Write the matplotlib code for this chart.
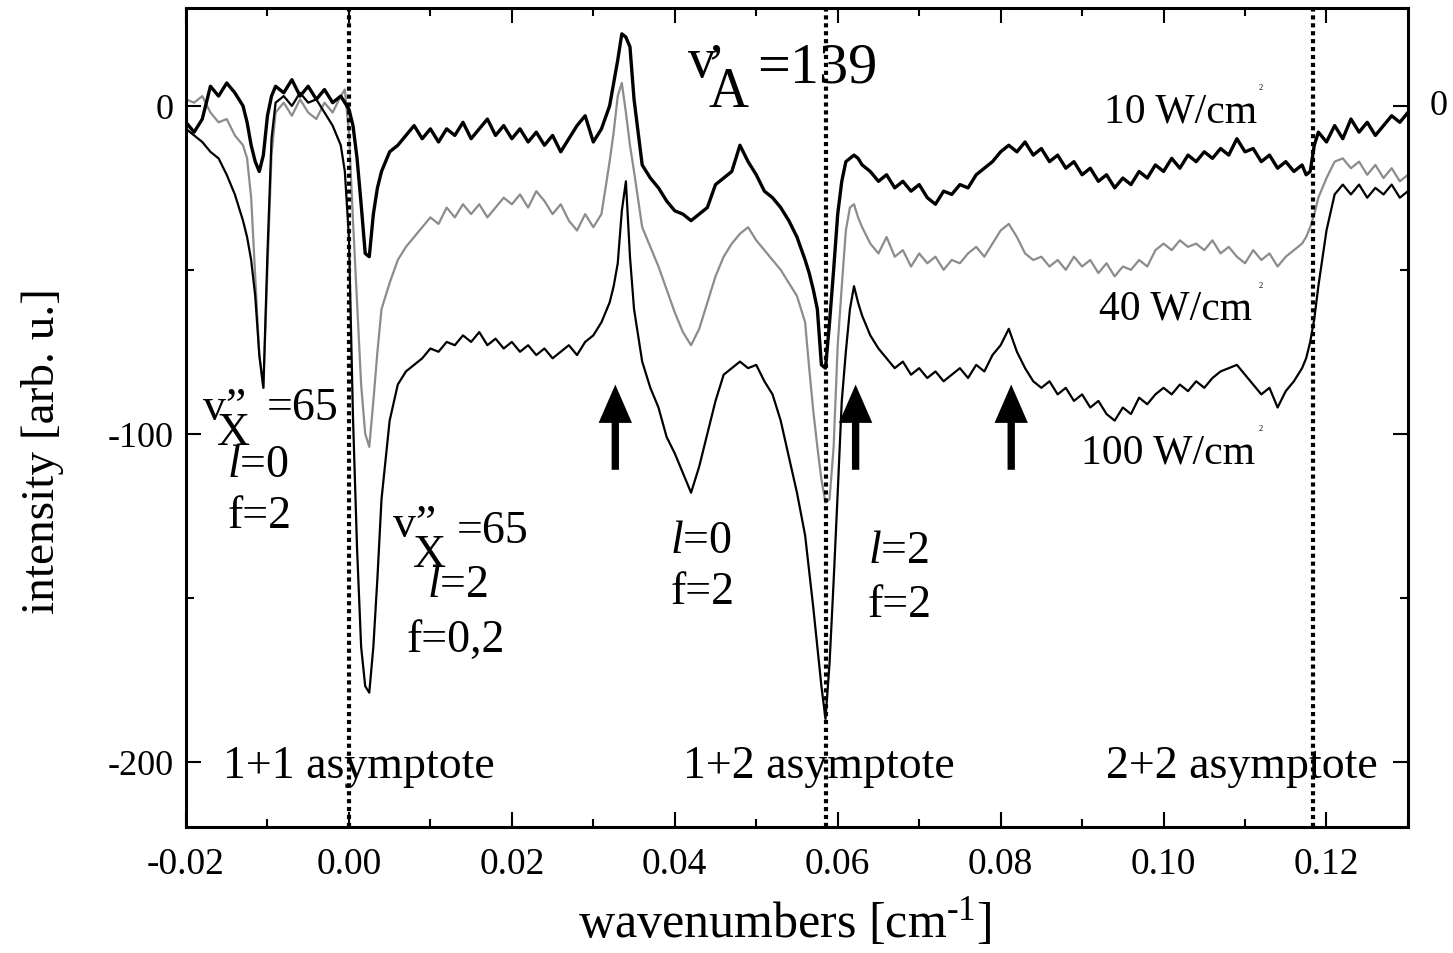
import matplotlib
matplotlib.use("Agg")
import matplotlib.pyplot as plt
from matplotlib.ticker import MultipleLocator, FuncFormatter

plt.rcParams['font.family'] = ['Liberation Serif', 'DejaVu Serif']
plt.rcParams['mathtext.fontset'] = 'custom'
plt.rcParams['mathtext.rm'] = 'Liberation Serif'
plt.rcParams['mathtext.it'] = 'Liberation Serif:italic'

# wavenumber grid [cm-1], finer around the sharp features
wavenumber = [
    -0.020, -0.019, -0.018, -0.017, -0.016, -0.015, -0.014, -0.013, -0.0125, -0.012,
    -0.0115, -0.011, -0.0105, -0.010, -0.0095, -0.009, -0.008, -0.007, -0.006, -0.005,
    -0.004, -0.003, -0.002, -0.001, -0.0005, 0.000, 0.0005, 0.001, 0.0015, 0.002,
    0.0025, 0.003, 0.0035, 0.004, 0.005, 0.006, 0.007, 0.008, 0.009, 0.010,
    0.011, 0.012, 0.013, 0.014, 0.015, 0.016, 0.017, 0.018, 0.019, 0.020,
    0.021, 0.022, 0.023, 0.024, 0.025, 0.026, 0.027, 0.028, 0.029, 0.030,
    0.031, 0.032, 0.0325, 0.033, 0.0335, 0.034, 0.0345, 0.035, 0.036, 0.037,
    0.038, 0.039, 0.040, 0.041, 0.042, 0.043, 0.044, 0.045, 0.046, 0.047,
    0.048, 0.049, 0.050, 0.051, 0.052, 0.053, 0.054, 0.055, 0.056, 0.0565,
    0.057, 0.0575, 0.058, 0.0585, 0.059, 0.0595, 0.060, 0.0605, 0.061, 0.0615,
    0.062, 0.0625, 0.063, 0.064, 0.065, 0.066, 0.067, 0.068, 0.069, 0.070,
    0.071, 0.072, 0.073, 0.074, 0.075, 0.076, 0.077, 0.078, 0.079, 0.080,
    0.081, 0.082, 0.083, 0.084, 0.085, 0.086, 0.087, 0.088, 0.089, 0.090,
    0.091, 0.092, 0.093, 0.094, 0.095, 0.096, 0.097, 0.098, 0.099, 0.100,
    0.101, 0.102, 0.103, 0.104, 0.105, 0.106, 0.107, 0.108, 0.109, 0.110,
    0.111, 0.112, 0.113, 0.114, 0.115, 0.116, 0.117, 0.1175, 0.118, 0.1185,
    0.119, 0.120, 0.121, 0.122, 0.123, 0.124, 0.125, 0.126, 0.127, 0.128,
    0.129, 0.130,
]

# intensity [arb. u.] for the three pump intensities
i_10w = [
    -5, -8, -4, 6, 3, 7, 4, 0, -5, -12,
    -17, -20, -15, -3, 3, 6, 4, 8, 3, 6,
    2, 5, 1, 3, 1, -1, -6, -16, -30, -45,
    -46, -33, -25, -20, -14, -12, -9, -6, -10, -7,
    -11, -7, -9, -5, -10, -7, -4, -9, -6, -10,
    -7, -11, -8, -12, -9, -14, -10, -6, -3, -11,
    -7, 0, 7, 14, 22, 21, 18, 2, -18, -22,
    -25, -29, -32, -33, -35, -33, -31, -24, -22, -20,
    -12, -17, -21, -26, -28, -31, -35, -40, -47, -51,
    -56, -62, -79, -80, -66, -50, -33, -23, -17, -16,
    -15, -16, -18, -20, -23, -21, -25, -23, -26, -24,
    -28, -30, -26, -27, -24, -25, -21, -19, -17, -14,
    -12, -14, -11, -15, -13, -17, -15, -19, -17, -21,
    -19, -23, -21, -25, -22, -24, -20, -22, -18, -20,
    -16, -19, -15, -17, -14, -16, -13, -15, -10, -14,
    -13, -17, -15, -19, -17, -20, -18, -21, -20, -12,
    -8, -11, -6, -10, -4, -8, -5, -9, -6, -3,
    -5, -2,
]
i_40w = [
    2, 1, 3, -2, -5, -4, -9, -12, -16, -28,
    -52, -76, -86, -50, -15, -2, 1, -3, 2, -2,
    -4, 1, -2, 3, 5, -8, -35, -60, -85, -100,
    -104, -90, -75, -62, -54, -47, -43, -40, -37, -34,
    -36, -31, -34, -30, -33, -30, -34, -31, -28, -30,
    -27, -31, -26, -29, -33, -30, -35, -38, -33, -37,
    -33, -17, -8, 3, 7, -2, -12, -20, -37, -43,
    -49, -56, -63, -69, -73, -68, -60, -52, -46, -42,
    -39, -37, -41, -44, -47, -50, -54, -58, -66, -80,
    -93, -104, -114, -121, -120, -104, -73, -55, -38, -31,
    -30, -34, -37, -42, -45, -40, -46, -44, -49, -45,
    -48, -46, -50, -47, -48, -45, -43, -46, -42, -38,
    -36, -40, -45, -47, -46, -49, -47, -50, -46, -49,
    -47, -51, -48, -52, -49, -50, -47, -49, -44, -42,
    -44, -41, -43, -42, -44, -41, -45, -43, -46, -48,
    -44, -47, -45, -49, -46, -44, -42, -40, -37, -33,
    -28, -22, -17, -16, -19, -17, -21, -18, -22, -19,
    -23, -21,
]
i_100w = [
    -7, -9, -11, -14, -16, -21, -27, -35, -40, -47,
    -58, -76, -86, -45, -10, 1, 3, 0, 4, 1,
    2, -2, -6, -12, -20, -40, -95, -135, -165, -177,
    -179, -165, -144, -120, -96, -85, -81, -79, -77, -74,
    -75, -72, -73, -70, -72, -69, -73, -71, -74, -72,
    -75, -73, -76, -74, -77, -75, -73, -76, -72, -70,
    -66, -60, -55, -48, -32, -23, -46, -62, -78, -86,
    -92, -101, -106, -112, -118, -110, -100, -90, -82, -80,
    -78, -80, -79, -84, -88, -96, -107, -118, -131, -142,
    -153, -165, -177, -187, -170, -145, -118, -90, -75, -62,
    -55, -60, -64, -70, -74, -77, -80, -78, -82, -80,
    -83, -81, -84, -82, -80, -83, -79, -81, -76, -73,
    -68, -75, -80, -84, -86, -84, -88, -86, -90, -88,
    -92, -90, -94, -96, -92, -94, -89, -91, -88, -86,
    -88, -85, -87, -84, -86, -83, -81, -80, -79, -82,
    -85, -88, -86, -92, -87, -84, -80, -77, -72, -65,
    -55, -38, -27, -24, -27, -24, -28, -25, -27, -24,
    -28, -26,
]

asymptotes = [0.0, 0.0586, 0.1183]
arrow_x = [0.0327, 0.0622, 0.0813]

fig = plt.figure(figsize=(14.53, 9.54), dpi=100)
ax = fig.add_axes([0.128, 0.132, 0.841, 0.859])

ax.plot(wavenumber, i_40w, color='#8c8c8c', lw=1.6)
ax.plot(wavenumber, i_100w, color='black', lw=1.6)
ax.plot(wavenumber, i_10w, color='black', lw=2.4)

for a in asymptotes:
    ax.axvline(a, color='black', lw=3.0, ls=(0, (1, 0.9)), zorder=4)

for xa in arrow_x:
    ax.annotate('', xy=(xa, -85), xytext=(xa, -111),
                arrowprops=dict(arrowstyle='simple,head_length=1.15,head_width=1.0,tail_width=0.22',
                                color='black', lw=0, shrinkA=0, shrinkB=0, mutation_scale=24))

lab = dict(fontsize=33, ha='left', va='baseline')
# v''_X = 65, l=0, f=2
ax.text(-0.01795, -95.6, 'v\u201d', **lab)
ax.text(-0.01623, -103.2, 'X', **lab)
ax.text(-0.01008, -95.6, '=65', **lab)
ax.text(-0.0150, -113.0, '$l$=0', **lab)
ax.text(-0.01487, -128.5, 'f=2', **lab)
# v''_X = 65, l=2, f=0,2
ax.text(0.00541, -131.3, 'v\u201d', **lab)
ax.text(0.00787, -140.5, 'X', **lab)
ax.text(0.01328, -133.1, '=65', **lab)
ax.text(0.00959, -149.6, '$l$=2', **lab)
ax.text(0.00713, -166.4, 'f=0,2', **lab)
# middle labels
ax.text(0.03946, -136.2, '$l$=0', **lab)
ax.text(0.03946, -151.5, 'f=2', **lab)
ax.text(0.06368, -139.2, '$l$=2', **lab)
ax.text(0.06368, -155.7, 'f=2', **lab)
# asymptotes
ax.text(-0.01549, -204.6, '1+1 asymptote', **lab)
ax.text(0.04106, -204.6, '1+2 asymptote', **lab)
ax.text(0.09293, -204.6, '2+2 asymptote', **lab)

# v'_A = 139
ax.text(0.04167, 9.2, 'v', fontsize=40, ha='left', va='baseline')
ax.text(0.04389, 7.6, '\u2019', fontsize=40, ha='left', va='baseline')
ax.text(0.04413, 0.0, 'A', fontsize=40, ha='left', va='baseline')
ax.text(0.05015, 7.3, '=139', fontsize=42, ha='left', va='baseline')

# intensity labels
for xt, yt, txt in [(0.09269, -4.6, '10 W/cm'), (0.09207, -65.0, '40 W/cm'),
                    (0.08986, -108.7, '100 W/cm')]:
    ax.text(xt, yt, txt, fontsize=30, ha='left', va='baseline')
    ax.text(0.11162, yt + 9.8, '2', fontsize=6, ha='left', va='baseline')

ax.set_xlim(-0.02, 0.13)
ax.set_ylim(-220, 30)
ax.xaxis.set_major_locator(MultipleLocator(0.02))
ax.xaxis.set_minor_locator(MultipleLocator(0.01))
ax.yaxis.set_major_locator(MultipleLocator(100))
ax.yaxis.set_minor_locator(MultipleLocator(50))
ax.xaxis.set_major_formatter(FuncFormatter(lambda v, p: '%.2f' % (0.0 if abs(v) < 1e-9 else v)))
ax.yaxis.set_major_formatter(FuncFormatter(lambda v, p: '%d' % round(v)))

ax.tick_params(which='both', direction='in', top=True, right=True, width=1.5, labelsize=26)
ax.tick_params(axis='x', labelsize=27)
ax.tick_params(which='major', length=11)
ax.tick_params(which='minor', length=6)
ax.tick_params(axis='x', pad=14)
ax.tick_params(axis='y', pad=9)
for s in ax.spines.values():
    s.set_linewidth(2.2)

ax.text(1.018, 0, '0', transform=ax.get_yaxis_transform(), fontsize=26, ha='left', va='center')

ax.set_xlabel('wavenumbers [cm$^{\\text{-1}}$]', fontsize=36)
ax.set_ylabel('intensity [arb. u.]', fontsize=34)
ax.xaxis.set_label_coords(0.49, -0.083)
ax.yaxis.set_label_coords(-0.1, 0.46)

fig.savefig('out.png', dpi=100)
